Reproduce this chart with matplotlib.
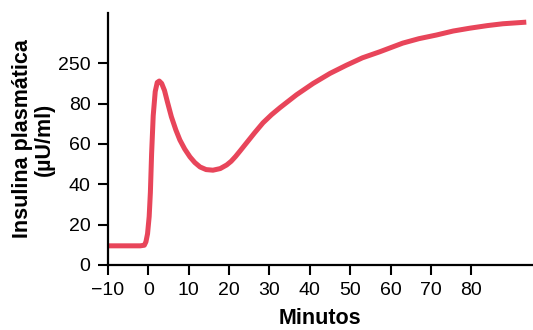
import matplotlib.pyplot as plt

# Curve (minutes, insulin units on the plotted scale)
minutes = [-10, -2, -1.0, -0.6, -0.2, 0.2, 0.5, 0.8, 1.2, 1.7, 2.2, 2.7, 3.3,
           4.0, 4.7, 5.7, 6.8, 7.8, 9.0, 10.3, 11.5, 12.8, 14.3, 16.0, 17.8,
           19.4, 20.5, 21.6, 22.7, 24.3, 26.3, 28.4, 30.5, 32.6, 36.7, 40.8, 45.0,
           49.0, 53.0, 57.3, 63.0, 67.0, 71.3, 75.5, 79.6, 84.0, 87.8, 93.6]
insulin = [9.5, 9.5, 9.8, 11.5, 15.5, 24.0, 36.0, 55.0, 74.0, 86.0, 90.5, 91.2, 90.0,
           86.5, 81.0, 73.5, 67.0, 62.0, 57.5, 53.6, 50.8, 48.6, 47.3, 47.0, 47.8,
           49.6, 51.4, 53.8, 56.5, 60.5, 65.5, 70.5, 74.5, 78.0, 84.4, 90.0, 95.0,
           99.0, 102.7, 105.7, 110.0, 112.2, 114.0, 116.0, 117.4, 118.7, 119.6, 120.4]

x_ticks = [-10, 0, 10, 20, 30, 40, 50, 60, 70, 80]
y_ticks = [0, 20, 40, 60, 80, 100]
y_tick_labels = ["0", "20", "40", "60", "80", "250"]

plt.rcParams["font.family"] = ["Liberation Sans", "DejaVu Sans"]

fig = plt.figure(figsize=(5.33, 3.30), dpi=100)
ax = fig.add_axes([0.2026, 0.197, 0.7954, 0.764])

ax.plot(minutes, insulin, color="#e8455a", linewidth=3.6,
        solid_capstyle="butt", solid_joinstyle="round")

ax.set_xlim(-10, 95)
ax.set_ylim(0, 125)
ax.set_xticks(x_ticks)
ax.set_yticks(y_ticks)
ax.set_yticklabels(y_tick_labels)

for side in ["top", "right"]:
    ax.spines[side].set_visible(False)
for side in ["left", "bottom"]:
    ax.spines[side].set_linewidth(1.6)
ax.tick_params(direction="out", length=7.5, width=1.5, labelsize=14)
ax.tick_params(axis="y", pad=5)
ax.tick_params(axis="x", pad=5)

ax.set_xlabel("Minutos", fontsize=15.5, fontweight="bold", labelpad=6)
ax.set_ylabel("Insulina plasmática\n(\u00b5U/ml)", fontsize=15.5,
              fontweight="bold", linespacing=1.05, labelpad=2)

fig.savefig("out.png", dpi=100)
